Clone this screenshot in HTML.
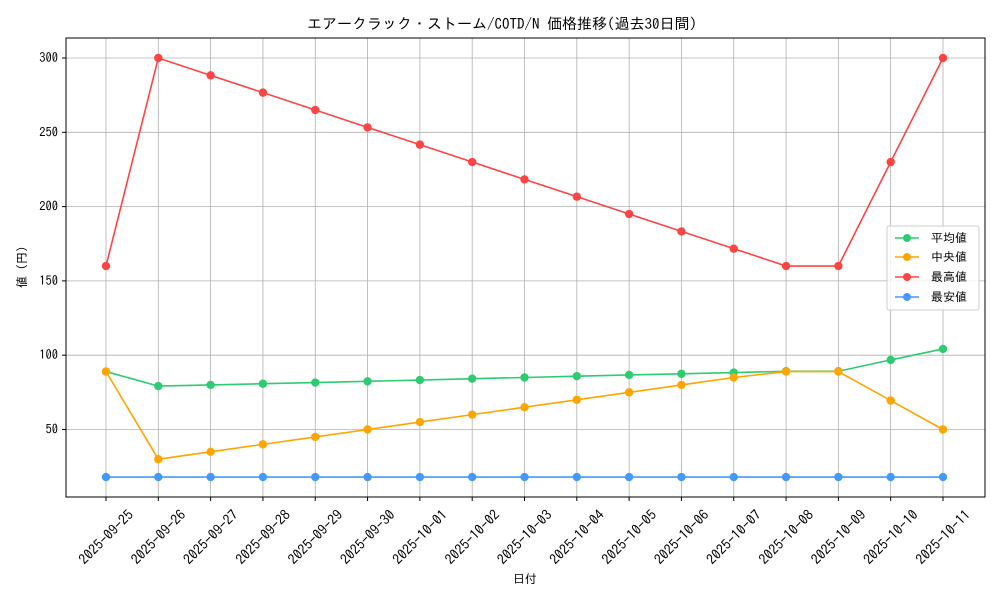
<!DOCTYPE html>
<html><head><meta charset="utf-8"><style>
body{margin:0;background:#fff}
text{font-family:"IPAGothic","Noto Sans CJK JP",sans-serif;fill:#000}
</style></head><body>
<svg width="1000" height="600" xmlns="http://www.w3.org/2000/svg">
<rect width="1000" height="600" fill="#fff"/>
<g id="grid" stroke="#b0b0b0" stroke-width="0.8"></g>
<rect x="66" y="38" width="919" height="459" fill="none" stroke="#000" stroke-width="1"/>
<g id="ticks"></g>
<g id="series"></g>
<text x="502" y="29" font-size="15" text-anchor="middle">エアークラック・ストーム/COTD/N 価格推移(過去30日間)</text>
<text x="525" y="583" font-size="12" text-anchor="middle">日付</text>
<text transform="translate(26,267) rotate(-90)" font-size="12" text-anchor="middle">値 (円)</text>
<g>
<rect x="887" y="226" width="92" height="84" fill="#fff" fill-opacity="0.8" stroke="#ccc" rx="2"/>
<line x1="895" y1="238" x2="919" y2="238" stroke="#2ecc71" stroke-width="1.5"/><circle cx="907" cy="238" r="4" fill="#2ecc71"/><text x="931" y="242" font-size="12">平均値</text>
<line x1="895" y1="257" x2="919" y2="257" stroke="#ffa500" stroke-width="1.5"/><circle cx="907" cy="257" r="4" fill="#ffa500"/><text x="931" y="261" font-size="12">中央値</text>
<line x1="895" y1="277" x2="919" y2="277" stroke="#ff4444" stroke-width="1.5"/><circle cx="907" cy="277" r="4" fill="#ff4444"/><text x="931" y="281" font-size="12">最高値</text>
<line x1="895" y1="297" x2="919" y2="297" stroke="#4499ff" stroke-width="1.5"/><circle cx="907" cy="297" r="4" fill="#4499ff"/><text x="931" y="301" font-size="12">最安値</text>
</g>
</svg>
<script>
const ns="http://www.w3.org/2000/svg";
function el(p,t,a,txt){const e=document.createElementNS(ns,t);for(const k in a)e.setAttribute(k,a[k]);if(txt)e.textContent=txt;document.getElementById(p).appendChild(e);}
const X=i=>106+i*52.3125, Y=v=>58+(300-v)*1.486;
const dates=["2025-09-25","2025-09-26","2025-09-27","2025-09-28","2025-09-29","2025-09-30","2025-10-01","2025-10-02","2025-10-03","2025-10-04","2025-10-05","2025-10-06","2025-10-07","2025-10-08","2025-10-09","2025-10-10","2025-10-11"];
dates.forEach((d,i)=>{const x=X(i);el("grid","line",{x1:x,y1:38,x2:x,y2:497});
el("ticks","line",{x1:x,y1:497,x2:x,y2:501,stroke:"#000"});
el("ticks","text",{transform:`translate(${x},${537}) rotate(-45)`,"font-size":"14","text-anchor":"middle","dominant-baseline":"central"},d);});
[50,100,150,200,250,300].forEach(v=>{const y=Y(v);el("grid","line",{x1:66,y1:y,x2:985,y2:y});
el("ticks","line",{x1:62,y1:y,x2:66,y2:y,stroke:"#000"});
el("ticks","text",{x:58,y:y+4,"font-size":"12.5","text-anchor":"end"},String(v));});
const S=[
["#2ecc71",[89,79.2,80,80.8,81.6,82.4,83.3,84.2,85,85.9,86.7,87.5,88.3,89.2,89.2,96.8,104.2]],
["#ffa500",[89,30,35,40,45,50,55,60,65,70,75,80,85,89,89,69.5,50]],
["#ff4444",[160,300,288.3,276.7,265,253.3,241.7,230,218.3,206.7,195,183.3,171.7,160,160,230,300]],
["#4499ff",Array(17).fill(18)]];
S.forEach(([c,d])=>{el("series","polyline",{points:d.map((v,i)=>X(i)+","+Y(v)).join(" "),fill:"none",stroke:c,"stroke-width":"1.6"});
d.forEach((v,i)=>el("series","circle",{cx:X(i),cy:Y(v),r:4.2,fill:c}));});
</script>
</body></html>
